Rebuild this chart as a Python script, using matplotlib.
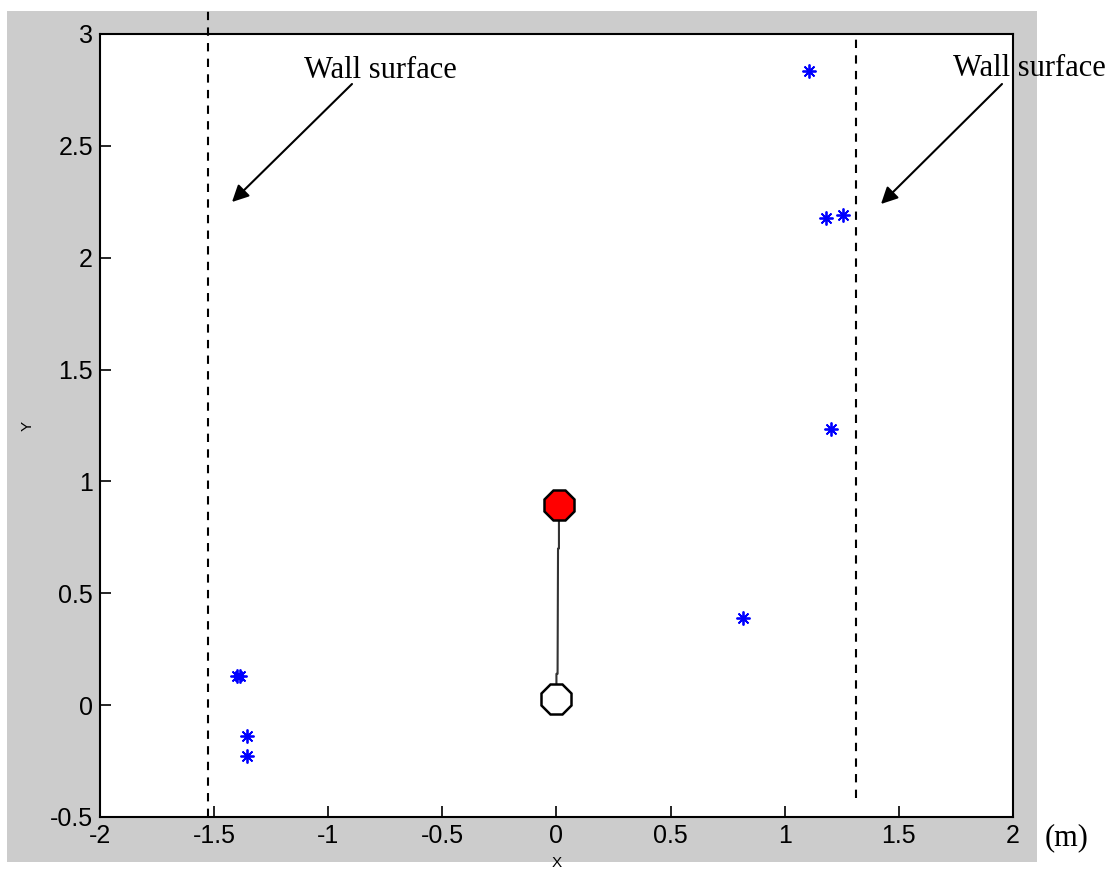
import numpy as np
import matplotlib
matplotlib.use("Agg")
import matplotlib.pyplot as plt
from matplotlib.patches import Rectangle

# Puntos detectados (asteriscos azules)
puntos_x = [1.106, 1.180, 1.255, 1.203, 0.817, -1.400, -1.385, -1.356, -1.356]
puntos_y = [2.834, 2.177, 2.190, 1.234, 0.389, 0.130, 0.130, -0.139, -0.228]

# Trayectoria del robot (inicio abajo, fin arriba)
tray_x = [0.000, 0.000, 0.005, 0.007, 0.011, 0.011]
tray_y = [0.070, 0.140, 0.140, 0.700, 0.700, 0.850]
inicio = (0.000, 0.027)
fin = (0.011, 0.894)

# Paredes
pared_izq = -1.527
pared_der = 1.312

fig = plt.figure(figsize=(11.18, 8.71), dpi=100)
fig.patch.set_facecolor("white")

# Fondo gris estilo MATLAB
fig.patches.append(Rectangle((0.00626, 0.0103), 0.9213, 0.977, transform=fig.transFigure,
                             facecolor="#cccccc", edgecolor="none", zorder=-10))

ax = fig.add_axes([0.0894, 0.062, 0.8166, 0.899])
ax.set_facecolor("white")
ax.set_xlim(-2, 2)
ax.set_ylim(-0.5, 3)

ax.plot(tray_x, tray_y, color="#333333", lw=1.5, zorder=2)
ax.plot(*fin, marker="8", ms=24, mfc="red", mec="black", mew=1.8, zorder=3)
ax.plot(*inicio, marker="8", ms=24, mfc="white", mec="black", mew=1.8, zorder=3)
ax.plot(puntos_x, puntos_y, ls="none", marker=(8, 2, 0), ms=10, color="blue", mew=1.3, zorder=3)

ax.plot([pared_izq, pared_izq], [-0.5, 3.103], ls=(0, (4, 3.5)), color="black", lw=1.5, clip_on=False)
ax.plot([pared_der, pared_der], [-0.416, 3.0], ls=(0, (4, 3.5)), color="black", lw=1.5, clip_on=False)

ax.set_xticks(np.arange(-2, 2.01, 0.5))
ax.set_yticks(np.arange(-0.5, 3.01, 0.5))
ax.set_xticklabels(["-2", "-1.5", "-1", "-0.5", "0", "0.5", "1", "1.5", "2"])
ax.set_yticklabels(["-0.5", "0", "0.5", "1", "1.5", "2", "2.5", "3"])
ax.tick_params(direction="in", length=8, width=1.2, labelsize=18, pad=5)
for lab in ax.get_xticklabels() + ax.get_yticklabels():
    lab.set_fontfamily("Liberation Sans")
for s in ax.spines.values():
    s.set_linewidth(1.5)

ax.set_xlabel("X", fontsize=11, family="Liberation Sans")
ax.set_ylabel("Y", fontsize=11, family="Liberation Sans")
ax.xaxis.set_label_coords(0.5, -0.05)
ax.yaxis.set_label_coords(-0.072, 0.5)

serif = "Liberation Serif"
fig.text(380 / 1118, 1 - 70 / 871, "Wall surface", ha="center", va="center", fontsize=22, family=serif)
fig.text(1029 / 1118, 1 - 68 / 871, "Wall surface", ha="center", va="center", fontsize=22, family=serif)
ax.annotate("", xy=(232 / 1118, 1 - 202 / 871), xycoords="figure fraction",
            xytext=(352 / 1118, 1 - 84 / 871), textcoords="figure fraction",
            arrowprops=dict(arrowstyle="-|>", color="black", lw=1.5, mutation_scale=25,
                            shrinkA=0, shrinkB=0))
ax.annotate("", xy=(881 / 1118, 1 - 204 / 871), xycoords="figure fraction",
            xytext=(1002 / 1118, 1 - 84 / 871), textcoords="figure fraction",
            arrowprops=dict(arrowstyle="-|>", color="black", lw=1.5, mutation_scale=25,
                            shrinkA=0, shrinkB=0))
fig.text(1067 / 1118, 1 - 838 / 871, "(m)", ha="center", va="center", fontsize=22, family=serif)

plt.savefig("out.png", dpi=100)
